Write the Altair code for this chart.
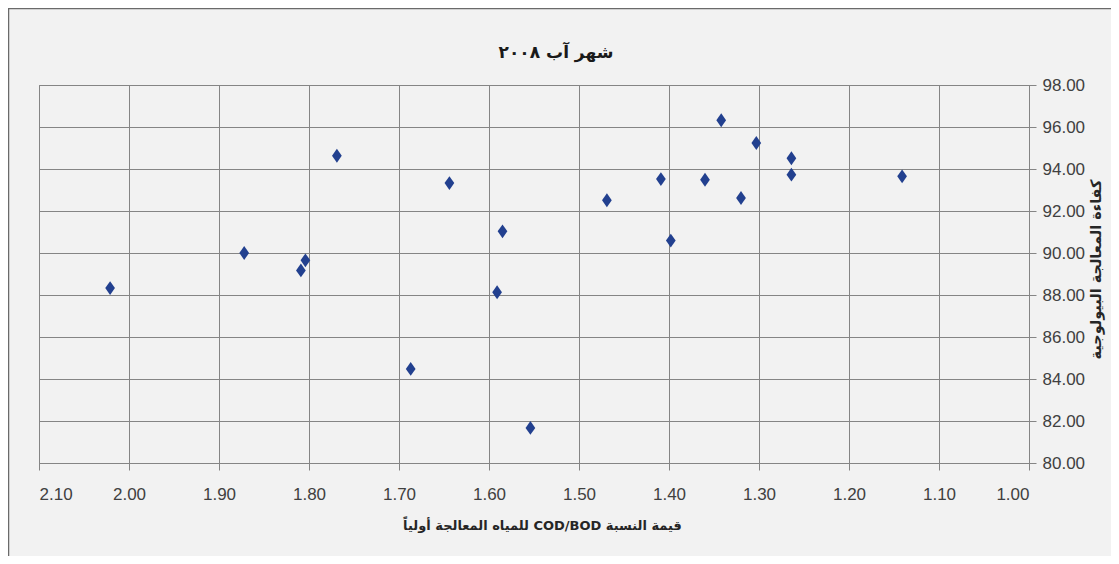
import altair as alt
import pandas as pd

# COD/BOD ratio of primary-treated water (x) and biological treatment efficiency % (y)
cod_bod_ratio = [2.021, 1.872, 1.804, 1.809, 1.769, 1.644, 1.585, 1.591, 1.687, 1.554,
                 1.469, 1.409, 1.398, 1.360, 1.342, 1.320, 1.303, 1.264, 1.264, 1.141]
efficiency = [88.33, 90.00, 89.65, 89.17, 94.63, 93.33, 91.03, 88.13, 84.48, 81.67,
              92.51, 93.52, 90.59, 93.49, 96.32, 92.62, 95.24, 94.51, 93.73, 93.65]

x_ticks = [2.10, 2.00, 1.90, 1.80, 1.70, 1.60, 1.50, 1.40, 1.30, 1.20, 1.10, 1.00]
y_ticks = [80, 82, 84, 86, 88, 90, 92, 94, 96, 98]

RLE, PDF = "\u202b", "\u202c"   # right-to-left embedding so Arabic lays out RTL


def rtl(s):
    return RLE + s + PDF


title_text = rtl("شهر آب ٢٠٠٨")
x_title = rtl("قيمة النسبة COD/BOD للمياه المعالجة أولياً")
y_title = rtl("كفاءة المعالجة البيولوجية")

df = pd.DataFrame({"ratio": cod_bod_ratio, "eff": efficiency})

W, H = 990, 378
PAD = {"left": 31, "top": 77, "right": 82, "bottom": 93}
GRID = "#858585"
LABEL_FONT = "Liberation Sans Narrow, Liberation Sans, sans-serif"
AR_FONT = "DejaVu Sans, sans-serif"

diamond = "M0,-1.35L0.95,0L0,1.35L-0.95,0Z"

points = alt.Chart(df).mark_point(
    shape=diamond, filled=True, size=105, color="#22408f", opacity=1
).encode(
    x=alt.X("ratio:Q",
            scale=alt.Scale(domain=[1.0, 2.1], reverse=True, nice=False, zero=False),
            axis=alt.Axis(values=x_ticks, format=".2f", title=x_title,
                          titleX=503, titleY=62, titleAngle=0, titleFontSize=13,
                          titleAlign="center", titleBaseline="middle")),
    y=alt.Y("eff:Q",
            scale=alt.Scale(domain=[80, 98], nice=False, zero=False),
            axis=alt.Axis(orient="right", values=y_ticks, format=".2f", title=y_title,
                          titleX=67, titleY=184, titleAngle=270, titleFontSize=14.5,
                          titleAlign="center", titleBaseline="middle")),
)

deco_df = pd.DataFrame({"k": [0]})
left_border = alt.Chart(deco_df).mark_rule(color="#6a6a6a", strokeWidth=1.5).encode(
    x=alt.value(-30.5), y=alt.value(-77), y2=alt.value(H + PAD["bottom"])
)
top_border = alt.Chart(deco_df).mark_rule(color="#6a6a6a", strokeWidth=1.5).encode(
    x=alt.value(-30.5), x2=alt.value(W + PAD["right"]), y=alt.value(-76.5)
)
title_mark = alt.Chart(deco_df).mark_text(
    text=title_text, font=AR_FONT, fontSize=17, fontWeight="bold", color="#1a1a1a",
    align="center", baseline="middle"
).encode(x=alt.value(W / 2 + 22), y=alt.value(-32))

chart = alt.layer(points, left_border, top_border, title_mark).properties(
    width=W, height=H,
    autosize=alt.AutoSizeParams(type="none"),
    padding=PAD,
    background="#f2f2f2",
).configure_view(
    stroke=GRID, strokeWidth=1, fill="#f2f2f2"
).configure_axis(
    grid=True, gridColor=GRID, gridWidth=1, gridOpacity=1,
    domainColor=GRID, domainWidth=1,
    tickColor=GRID, tickSize=7, tickWidth=1,
    labelFont=LABEL_FONT, labelFontSize=17, labelColor="#404040",
    titleFont=AR_FONT, titleFontWeight="bold", titleColor="#262626",
).configure_axisX(
    labelPadding=16
).configure_axisY(
    labelPadding=6
)

chart.save("out.html", embed_options={"renderer": "svg", "actions": False})
